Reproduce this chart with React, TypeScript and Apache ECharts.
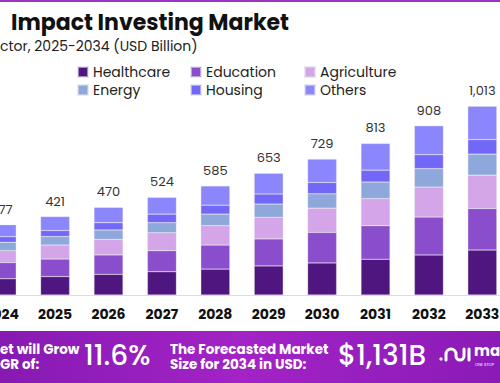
import React, { useEffect, useRef } from "react";
import * as echarts from "echarts";

const years = ["2024", "2025", "2026", "2027", "2028", "2029", "2030", "2031", "2032", "2033"];
const healthcare = [87, 99, 111, 125, 139, 156, 172, 192, 215, 241];
const education = [87, 94, 104, 113, 129, 145, 164, 180, 203, 223];
const agriculture = [64, 75, 84, 96, 104, 116, 130, 145, 161, 179];
const energy = [45, 46, 50, 54, 62, 71, 77, 89, 99, 113];
const housing = [30, 32, 39, 46, 48, 54, 61, 64, 75, 78];
const others = [64, 75, 82, 90, 103, 111, 125, 143, 155, 179];
const totals = [377, 421, 470, 524, 585, 653, 729, 813, 908, 1013];

const seriesNames = ["Healthcare", "Education", "Agriculture", "Energy", "Housing", "Others"];
const seriesColors = ["#4f1680", "#8a4dcb", "#d4a5e8", "#8fa8dc", "#7367f7", "#8b86fb"];
const seriesData = [healthcare, education, agriculture, energy, housing, others];

const FONT = "Poppins, 'Open Sans', 'Noto Sans', sans-serif";
const OX = 25; // chart canvas starts 25px left of the page
const W = 534;

echarts.graphic.registerShape(
  "mlogo",
  echarts.graphic.extendPath("M2 16 L2 10 A5 5 0 0 1 12 10 L12 12 A4 4 0 0 0 20 12 L20 5 M25 5 L25 16", {})
);

export default function App() {
  const ref = useRef<HTMLDivElement>(null);
  useEffect(() => {
    if (!ref.current) return;
    const chart = echarts.init(ref.current, null, { renderer: "svg" });
    const legendText = { fontFamily: FONT, fontSize: 14, color: "#222", lineHeight: 14 };
    const mkLegend = (left: number, data: string[]) => ({
      orient: "vertical",
      left: left + OX,
      top: 65,
      padding: 0,
      itemWidth: 10,
      itemHeight: 10,
      itemGap: 4,
      icon: "rect",
      textStyle: legendText,
      data,
    });
    const txt = (x: number, y: number, text: string, font: string, fill: string, lineHeight?: number) => ({
      type: "text",
      x: x + OX,
      y,
      style: { text, font, fill, textVerticalAlign: "middle", lineHeight },
    });
    chart.setOption({
      animation: false,
      backgroundColor: "#fff",
      grid: { left: 0, right: 0, top: 90, bottom: 88, containLabel: false },
      legend: [
        mkLegend(77, ["Healthcare", "Energy"]),
        mkLegend(190, ["Education", "Housing"]),
        mkLegend(304, ["Agriculture", "Others"]),
      ],
      xAxis: {
        type: "category",
        data: years,
        axisLine: { lineStyle: { color: "#dddddd", width: 1 } },
        axisTick: { show: false },
        axisLabel: { fontFamily: FONT, fontSize: 14, fontWeight: "bold", color: "#111", margin: 12 },
      },
      yAxis: { type: "value", min: 0, max: 1100, show: false, splitLine: { show: false } },
      series: seriesNames.map((name, i) => ({
        name,
        type: "bar",
        stack: "total",
        barWidth: 29,
        data: seriesData[i],
        itemStyle: { color: seriesColors[i], borderColor: "rgba(220,220,230,0.6)", borderWidth: 0.5 },
        label:
          i === seriesNames.length - 1
            ? {
                show: true,
                position: "top",
                distance: 9,
                fontFamily: FONT,
                fontSize: 13,
                color: "#333",
                formatter: (p: any) => totals[p.dataIndex].toLocaleString("en-US"),
              }
            : { show: false },
      })),
      graphic: [
        { type: "rect", shape: { x: 0, y: 0, width: W, height: 2 }, style: { fill: "#9b35c4" } },
        txt(11, 22, "Impact Investing Market", `bold 22px ${FONT}`, "#111"),
        txt(0, 46, "ctor, 2025-2034 (USD Billion)", `14px ${FONT}`, "#222"),
        {
          type: "rect",
          shape: { x: 0, y: 331, width: W, height: 52 },
          style: {
            fill: new echarts.graphic.LinearGradient(0, 0, 1, 0, [
              { offset: 0, color: "#8419b0" },
              { offset: 0.5, color: "#a323c6" },
              { offset: 1, color: "#8a1ab6" },
            ]),
          },
        },
        txt(0, 356.5, "et will Grow\nGR of:", `bold 13.5px ${FONT}`, "#fff", 15),
        txt(84, 355, "11.6%", `500 28px ${FONT}`, "#fff"),
        txt(170, 356.5, "The Forecasted Market\nSize for 2034 in USD:", `bold 13.5px ${FONT}`, "#fff", 15),
        txt(338, 355, "$1,131B", `500 28px ${FONT}`, "#fff"),
        {
          type: "mlogo",
          x: 444 + OX,
          y: 344,
          style: { fill: "none", stroke: "#fff", lineWidth: 3, lineCap: "round" },
        },
        { type: "circle", shape: { cx: 441 + OX, cy: 359, r: 1.6 }, style: { fill: "#fff" } },
        txt(474, 350, "ma", `bold 15px ${FONT}`, "#fff"),
        txt(475, 364, "ONE STOP", `4px ${FONT}`, "#fff"),
      ],
    });
    return () => chart.dispose();
  }, []);
  return <div ref={ref} style={{ position: "fixed", left: -OX, top: 0, width: W, height: 383 }} />;
}
